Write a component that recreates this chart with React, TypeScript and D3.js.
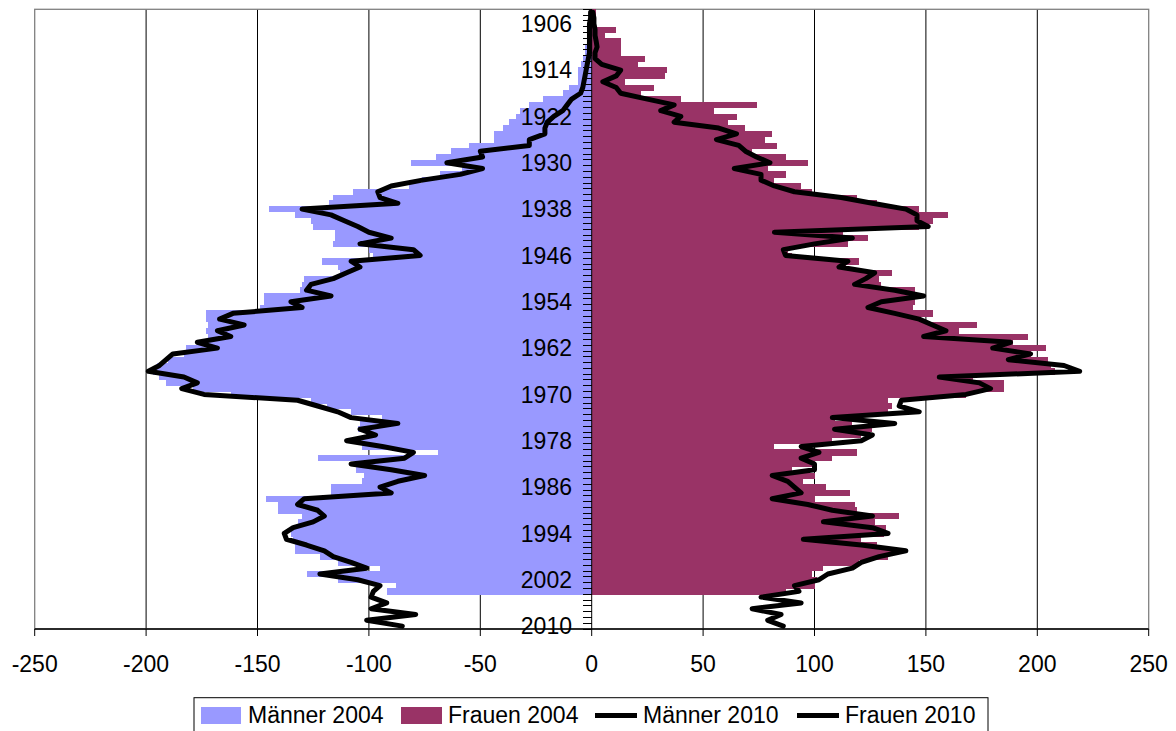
import React from 'react';
import * as d3 from 'd3';

// Birth years (categories), top to bottom
const years = [
  1904, 1905, 1906, 1907, 1908, 1909, 1910, 1911, 1912, 1913,
  1914, 1915, 1916, 1917, 1918, 1919, 1920, 1921, 1922, 1923,
  1924, 1925, 1926, 1927, 1928, 1929, 1930, 1931, 1932, 1933,
  1934, 1935, 1936, 1937, 1938, 1939, 1940, 1941, 1942, 1943,
  1944, 1945, 1946, 1947, 1948, 1949, 1950, 1951, 1952, 1953,
  1954, 1955, 1956, 1957, 1958, 1959, 1960, 1961, 1962, 1963,
  1964, 1965, 1966, 1967, 1968, 1969, 1970, 1971, 1972, 1973,
  1974, 1975, 1976, 1977, 1978, 1979, 1980, 1981, 1982, 1983,
  1984, 1985, 1986, 1987, 1988, 1989, 1990, 1991, 1992, 1993,
  1994, 1995, 1996, 1997, 1998, 1999, 2000, 2001, 2002, 2003,
  2004, 2005, 2006, 2007, 2008, 2009, 2010,
];

// Männer 2004 (bars, 1904–2004)
const men2004 = [
  -1, -1, -1, -2, -2, -2, -3, -3, -4, -5,
  -6, -6, -6, -10, -13, -22, -28, -32, -34, -37,
  -40, -44, -44, -55, -63, -70, -81, -58, -68, -76,
  -82, -107, -116, -118, -145, -133, -126, -125, -115, -115,
  -116, -100, -98, -121, -114, -113, -129, -130, -131, -147,
  -147, -149, -173, -173, -172, -173, -172, -175, -182, -183,
  -190, -195, -197, -194, -191, -179, -162, -126, -119, -108,
  -94, -104, -105, -99, -103, -103, -69, -123, -106, -106,
  -102, -103, -117, -117, -146, -141, -141, -130, -132, -134,
  -135, -134, -133, -133, -122, -114, -95, -128, -114, -88,
  -92,
];

// Frauen 2004 (bars, 1904–2004)
const women2004 = [
  2, 1, 1, 11, 6, 13, 13, 13, 24, 21,
  34, 33, 15, 28, 22, 40, 74, 55, 65, 61,
  69, 81, 78, 83, 72, 87, 97, 79, 87, 82,
  94, 99, 119, 128, 147, 160, 153, 147, 113, 124,
  115, 88, 90, 120, 114, 135, 129, 130, 145, 146,
  145, 144, 153, 148, 173, 165, 196, 189, 204, 197,
  205, 206, 208, 171, 185, 185, 168, 133, 135, 133,
  109, 117, 126, 121, 108, 82, 119, 108, 100, 90,
  100, 95, 105, 116, 100, 118, 119, 138, 127, 132,
  131, 121, 128, 135, 133, 120, 104, 99, 101, 100,
  87,
];

// Männer 2010 (line, 1904–2010)
const men2010 = [
  -0.5, -0.5, -1, -1, -1, -1, -1, -1, -1.5, -2,
  -2.5, -3, -3.5, -4, -5, -9, -11, -13, -17, -20,
  -21, -21, -28, -28, -50, -49, -65, -49, -59, -76,
  -90, -96, -95, -87, -130, -117, -111, -105, -100, -90,
  -104, -80, -77, -108, -104, -110, -116, -126, -128, -117,
  -135, -130, -161, -167, -156, -168, -162, -177, -168, -188,
  -191, -194, -199, -183, -177, -184, -174, -132, -123, -114,
  -108, -87, -104, -97, -110, -94, -80, -84, -108, -90,
  -75, -87, -95, -90, -129, -132, -123, -120, -125, -134,
  -138, -137, -128, -120, -116, -108, -101, -122, -105, -95,
  -98, -99, -92, -99, -79, -101, -85,
];

// Frauen 2010 (line, 1904–2010)
const women2010 = [
  0.5, 1, 1, 1.5, 1.5, 2, 2.4, 1.5, 1.5, 4.5,
  13, 11, 5, 11, 13, 25, 37, 31, 40, 37,
  57, 65, 56, 66, 69, 74, 80, 64, 76, 76,
  82, 91, 112, 126, 141, 146, 146, 151, 82, 117,
  100, 86, 87, 115, 111, 127, 123, 118, 136, 149,
  130, 124, 136, 147, 153, 159, 149, 188, 180, 197,
  187, 212, 219, 156, 174, 179, 168, 139, 138, 147,
  108, 136, 109, 126, 121, 94, 102, 94, 100, 100,
  81, 88, 91, 94, 81, 97, 108, 126, 104, 126,
  133, 95, 121, 141, 129, 121, 117, 106, 102, 91,
  93, 76, 94, 72, 85, 79, 86,
];

const yearTickLabels = [1906, 1914, 1922, 1930, 1938, 1946, 1954, 1962, 1970, 1978, 1986, 1994, 2002, 2010];
const xTicks = [-250, -200, -150, -100, -50, 0, 50, 100, 150, 200, 250];
const gridTicks = [-200, -150, -100, -50, 50, 100, 150, 200];

const seriesNames = ['Männer 2004', 'Frauen 2004', 'Männer 2010', 'Frauen 2010'];
const MEN_COLOR = '#9999FF';
const WOMEN_COLOR = '#993366';

const FONT = '"Liberation Sans", Arial, sans-serif';

export default function App() {
  const W = 1176;
  const H = 731;
  const left = 34.7;
  const right = 1148.7;
  const top = 9.3;
  const bottom = 629;

  const x = d3.scaleLinear().domain([-250, 250]).range([left, right]);
  const y = d3.scaleBand<number>().domain(years).range([top, bottom]).padding(0);
  const bw = y.bandwidth();
  const x0 = x(0);

  const lineGen = d3
    .line<number>()
    .x((d) => x(d))
    .y((_d, i) => (y(years[i]) as number) + bw / 2)
    .curve(d3.curveLinear);

  const boundaries = years.map((yr) => y(yr) as number).concat([bottom]);

  return (
    <svg
      width={W}
      height={H}
      style={{ position: 'absolute', left: 0, top: 0, background: '#fff' }}
      fontFamily={FONT}
    >
      <rect x={0} y={0} width={W} height={H} fill="#fff" />
      {/* gridlines */}
      {gridTicks.map((t) => (
        <line key={'g' + t} x1={x(t)} x2={x(t)} y1={top} y2={bottom} stroke="#000" strokeWidth={1} />
      ))}
      {/* plot border */}
      <rect x={left} y={top} width={right - left} height={bottom - top} fill="none" stroke="#808080" strokeWidth={1.3} />

      {/* bars */}
      <g shapeRendering="crispEdges">
        {men2004.map((v, i) => (
          <rect
            key={'m' + i}
            x={x(v)}
            y={y(years[i]) as number}
            width={x0 - x(v)}
            height={bw + 0.4}
            fill={MEN_COLOR}
          />
        ))}
        {women2004.map((v, i) => (
          <rect
            key={'w' + i}
            x={x0}
            y={y(years[i]) as number}
            width={x(v) - x0}
            height={bw + 0.4}
            fill={WOMEN_COLOR}
          />
        ))}
      </g>

      {/* category axis */}
      <line x1={x0} x2={x0} y1={top} y2={bottom} stroke="#000" strokeWidth={1} />
      <g shapeRendering="crispEdges">
        {boundaries.map((b, i) => (
          <line key={'t' + i} x1={x0 - 9} x2={x0} y1={b} y2={b} stroke="#000" strokeWidth={1} />
        ))}
      </g>
      {yearTickLabels.map((yr) => (
        <text
          key={'yl' + yr}
          x={572}
          y={(y(yr) as number) + bw / 2 + 8.2}
          textAnchor="end"
          fontSize={23}
          fill="#000"
        >
          {yr}
        </text>
      ))}

      {/* 2010 lines */}
      <path d={lineGen(men2010) || ''} fill="none" stroke="#000" strokeWidth={5} strokeLinejoin="round" strokeLinecap="round" />
      <path d={lineGen(women2010) || ''} fill="none" stroke="#000" strokeWidth={5} strokeLinejoin="round" strokeLinecap="round" />

      {/* value axis */}
      <line x1={left} x2={right} y1={bottom} y2={bottom} stroke="#000" strokeWidth={1.3} />
      {xTicks.map((t) => (
        <g key={'x' + t}>
          <line x1={x(t)} x2={x(t)} y1={bottom} y2={bottom + 7} stroke="#000" strokeWidth={1} />
          <text x={x(t)} y={672.3} textAnchor="middle" fontSize={23} fill="#000">
            {t}
          </text>
        </g>
      ))}

      {/* legend */}
      <rect x={194} y={697.7} width={794} height={40} fill="#fff" stroke="#000" strokeWidth={1} />
      <rect x={201} y={707} width={40} height={17} fill={MEN_COLOR} />
      <text x={248} y={723} fontSize={23}>{seriesNames[0]}</text>
      <rect x={401} y={707} width={41} height={17} fill={WOMEN_COLOR} />
      <text x={448} y={723} fontSize={23}>{seriesNames[1]}</text>
      <line x1={595} x2={637} y1={715.5} y2={715.5} stroke="#000" strokeWidth={5} />
      <text x={643} y={723} fontSize={23}>{seriesNames[2]}</text>
      <line x1={797} x2={839} y1={715.5} y2={715.5} stroke="#000" strokeWidth={5} />
      <text x={845} y={723} fontSize={23}>{seriesNames[3]}</text>
    </svg>
  );
}
